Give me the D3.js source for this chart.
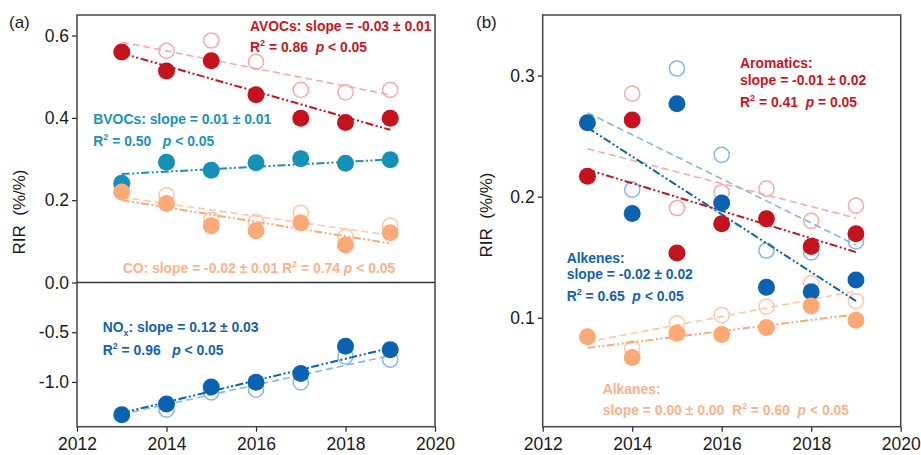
<!DOCTYPE html>
<html>
<head>
<meta charset="utf-8">
<script src="https://cdn.jsdelivr.net/npm/d3@7"></script>
<style>
  html, body { margin: 0; padding: 0; background: #fff; }
  svg text { font-family: "Liberation Sans", Arial, sans-serif; }
</style>
</head>
<body>
<svg id="chart" width="921" height="455"></svg>
<script>
// ---- data ----
const years = [2013, 2014, 2015, 2016, 2017, 2018, 2019];
const xTicks = [2012, 2014, 2016, 2018, 2020];

// panel (a)
const avocs = [0.560, 0.514, 0.539, 0.456, 0.399, 0.389, 0.399];
const avocsOpen = [null, 0.563, 0.588, 0.536, 0.468, 0.462, 0.468];
const avocsFit = [0.557, 0.371];
const avocsOpenFit = [0.584, 0.456];

const bvocs = [0.241, 0.292, 0.273, 0.291, 0.301, 0.290, 0.298];
const bvocsFit = [0.2635, 0.299];

const co = [0.220, 0.192, 0.138, 0.126, 0.145, 0.091, 0.121];
const coOpen = [null, 0.212, 0.152, 0.147, 0.169, 0.111, 0.138];
const coFit = [0.200, 0.095];
const coOpenFit = [0.207, 0.115];

const nox = [-1.329, -1.222, -1.051, -1.004, -0.916, -0.641, -0.675];
const noxOpen = [null, -1.279, -1.105, -1.078, -1.004, -0.742, -0.775];
const noxFit = [-1.312, -0.658];
const noxOpenFit = [-1.325, -0.735];

const yTicksPos = [0.0, 0.2, 0.4, 0.6];
const yTicksNeg = [-0.5, -1.0];

// panel (b)
const aromatics = [0.2168, 0.2632, 0.1534, 0.1776, 0.1818, 0.1588, 0.1693];
const aromaticsOpen = [null, 0.285, 0.1906, 0.2036, 0.2066, 0.180, 0.1925];
const aromaticsFit = [0.2224, 0.1542];
const aromaticsOpenFit = [0.2395, 0.1823];

const alkenes = [0.2611, 0.186, 0.2768, 0.1948, 0.1252, 0.1215, 0.1312];
const alkenesOpen = [null, 0.2058, 0.3058, 0.2345, 0.1555, 0.1539, 0.163];
const alkenesFit = [0.257, 0.1138];
const alkenesOpenFit = [0.2693, 0.160];

const alkanes = [0.0843, 0.0672, 0.0871, 0.0862, 0.092, 0.1097, 0.098];
const alkanesOpen = [null, 0.0746, 0.0954, 0.1022, 0.1091, 0.1285, 0.1138];
const alkanesFit = [0.0751, 0.1028];
const alkanesOpenFit = [0.080, 0.122];

const yTicksB = [0.1, 0.2, 0.3];

// ---- colours ----
const C = {
  red: '#c4121f', redLight: '#f7a9a9',
  teal: '#1591b8',
  orange: '#fca877', orangeLight: '#fdc8a8',
  blue: '#0b62b0', blueLight: '#84b6e8',
  redText: '#c8161e', tealText: '#1a92b9', orangeText: '#fbb189', blueText: '#1262ad'
};

const TOP = 15, BOTTOM = 426.7;
const TICK_FONT = '17.5px';
const svg = d3.select('#chart');

function styleAxis(g) {
  g.select('.domain').remove();
  g.selectAll('line').attr('stroke', '#222').attr('stroke-width', 1.2);
  g.selectAll('text').attr('fill', '#1a1a1a').style('font-size', TICK_FONT);
}

function drawFrame(x0, x1) {
  svg.append('rect')
    .attr('x', x0).attr('y', TOP)
    .attr('width', x1 - x0).attr('height', BOTTOM - TOP)
    .attr('fill', 'none').attr('stroke', '#444').attr('stroke-width', 1.5);
}

// one series: open circles, fit lines, filled circles go to separate layers
function drawSeries(layers, x, y, vals, open, fit, openFit, color, lightColor) {
  if (open) {
    layers.open.selectAll(null)
      .data(years.map((yr, i) => ({ yr, v: open[i] })).filter((d) => d.v != null))
      .enter().append('circle')
      .attr('cx', (d) => x(d.yr)).attr('cy', (d) => y(d.v)).attr('r', 7.6)
      .attr('fill', 'none').attr('stroke', lightColor).attr('stroke-width', 1.5);
  }
  if (openFit) {
    layers.lines.append('line')
      .attr('x1', x(years[0])).attr('x2', x(years[years.length - 1]))
      .attr('y1', y(openFit[0])).attr('y2', y(openFit[1]))
      .attr('stroke', lightColor).attr('stroke-width', 1.6)
      .attr('stroke-dasharray', '7,4');
  }
  layers.lines.append('line')
    .attr('x1', x(years[0])).attr('x2', x(years[years.length - 1]))
    .attr('y1', y(fit[0])).attr('y2', y(fit[1]))
    .attr('stroke', color).attr('stroke-width', 2)
    .attr('stroke-dasharray', '8,2.5,2,2.5,2,2.5');
  layers.filled.selectAll(null)
    .data(years.map((yr, i) => ({ yr, v: vals[i] })))
    .enter().append('circle')
    .attr('cx', (d) => x(d.yr)).attr('cy', (d) => y(d.v)).attr('r', 8.5)
    .attr('fill', color);
}

// rich text: segments {t, sup, sub, it}
function label(x, y, color, segs) {
  const t = svg.append('text')
    .attr('x', x).attr('y', y)
    .attr('xml:space', 'preserve')
    .attr('fill', color).style('font-size', '13.9px').style('font-weight', 'bold');
  let shift = 0;
  segs.forEach((s) => {
    const seg = typeof s === 'string' ? { t: s } : s;
    const target = seg.sup ? -6 : seg.sub ? 4 : 0;
    const ts = t.append('tspan').attr('dy', target - shift).text(seg.t);
    if (seg.sup || seg.sub) ts.style('font-size', '9px');
    if (seg.it) ts.style('font-style', 'italic');
    shift = target;
  });
}

function makeLayers() {
  return { open: svg.append('g'), lines: svg.append('g'), filled: svg.append('g') };
}

function yTitle(cx, cy) {
  svg.append('text')
    .attr('transform', `translate(${cx},${cy}) rotate(-90)`)
    .attr('text-anchor', 'middle').style('font-size', '17px').attr('fill', '#1a1a1a')
    .attr('xml:space', 'preserve')
    .text('RIR  (%/%)');
}

// ---------------- panel (a) ----------------
(function panelA() {
  const X0 = 77, X1 = 435, ZERO = 282.5;
  const x = d3.scaleLinear().domain([2012, 2020]).range([X0, X1]);
  const yPos = d3.scaleLinear().domain([0, 0.65]).range([ZERO, TOP]);
  const yNeg = d3.scaleLinear().domain([-1.45, 0]).range([BOTTOM, ZERO]);
  const y = (v) => (v >= 0 ? yPos(v) : yNeg(v));
  const fmt = (d) => d.toFixed(1);

  svg.append('g').attr('transform', `translate(0,${BOTTOM})`)
    .call(d3.axisBottom(x).tickValues(xTicks).tickFormat(d3.format('d')).tickSize(5).tickPadding(6))
    .call(styleAxis);
  svg.append('g').attr('transform', `translate(${X0},0)`)
    .call(d3.axisLeft(yPos).tickValues(yTicksPos).tickFormat(fmt).tickSize(5).tickPadding(3))
    .call(styleAxis);
  svg.append('g').attr('transform', `translate(${X0},0)`)
    .call(d3.axisLeft(yNeg).tickValues(yTicksNeg).tickFormat(fmt).tickSize(5).tickPadding(3))
    .call(styleAxis);

  svg.append('line')
    .attr('x1', X0).attr('x2', X1).attr('y1', ZERO).attr('y2', ZERO)
    .attr('stroke', '#333').attr('stroke-width', 1.3);

  const layers = makeLayers();
  drawSeries(layers, x, y, avocs, avocsOpen, avocsFit, avocsOpenFit, C.red, C.redLight);
  drawSeries(layers, x, y, bvocs, null, bvocsFit, null, C.teal, C.teal);
  drawSeries(layers, x, y, co, coOpen, coFit, coOpenFit, C.orange, C.orangeLight);
  drawSeries(layers, x, y, nox, noxOpen, noxFit, noxOpenFit, C.blue, C.blueLight);

  drawFrame(X0, X1);

  label(250, 30.7, C.redText, ['AVOCs: slope = -0.03 \u00b1 0.01']);
  label(250, 52.3, C.redText, ['R', { t: '2', sup: true }, ' = 0.86  ', { t: 'p', it: true }, ' < 0.05']);
  label(93.3, 124, C.tealText, ['BVOCs: slope = 0.01 \u00b1 0.01']);
  label(93.3, 146, C.tealText, ['R', { t: '2', sup: true }, ' = 0.50   ', { t: 'p', it: true }, ' < 0.05']);
  label(122.7, 273.3, C.orangeText, ['CO: slope = -0.02 \u00b1 0.01 R', { t: '2', sup: true }, ' = 0.74 ', { t: 'p', it: true }, ' < 0.05']);
  label(102.7, 331.7, C.blueText, ['NO', { t: 'x', sub: true }, ': slope = 0.12 \u00b1 0.03']);
  label(102.7, 355, C.blueText, ['R', { t: '2', sup: true }, ' = 0.96   ', { t: 'p', it: true }, ' < 0.05']);

  svg.append('text').attr('x', 9).attr('y', 28).style('font-size', '17px').attr('fill', '#1a1a1a').text('(a)');
  yTitle(25, 212);
})();

// ---------------- panel (b) ----------------
(function panelB() {
  const X0 = 542.7, X1 = 900.7;
  const x = d3.scaleLinear().domain([2012, 2020]).range([X0, X1]);
  const y = d3.scaleLinear().domain([0.01, 0.35]).range([BOTTOM, TOP]);

  svg.append('g').attr('transform', `translate(0,${BOTTOM})`)
    .call(d3.axisBottom(x).tickValues(xTicks).tickFormat(d3.format('d')).tickSize(5).tickPadding(6))
    .call(styleAxis);
  svg.append('g').attr('transform', `translate(${X0},0)`)
    .call(d3.axisLeft(y).tickValues(yTicksB).tickFormat((d) => d.toFixed(1)).tickSize(5).tickPadding(3))
    .call(styleAxis);

  const layers = makeLayers();
  drawSeries(layers, x, y, aromatics, aromaticsOpen, aromaticsFit, aromaticsOpenFit, C.red, C.redLight);
  drawSeries(layers, x, y, alkenes, alkenesOpen, alkenesFit, alkenesOpenFit, C.blue, C.blueLight);
  drawSeries(layers, x, y, alkanes, alkanesOpen, alkanesFit, alkanesOpenFit, C.orange, C.orangeLight);

  drawFrame(X0, X1);

  label(740, 68.3, C.redText, ['Aromatics:']);
  label(740, 85, C.redText, ['slope = -0.01 \u00b1 0.02']);
  label(740, 106.7, C.redText, ['R', { t: '2', sup: true }, ' = 0.41  ', { t: 'p', it: true }, ' = 0.05']);
  label(566.7, 262.7, C.blueText, ['Alkenes:']);
  label(566.7, 278.8, C.blueText, ['slope = -0.02 \u00b1 0.02']);
  label(566.7, 300.7, C.blueText, ['R', { t: '2', sup: true }, ' = 0.65  ', { t: 'p', it: true }, ' < 0.05']);
  label(602.7, 394, C.orangeText, ['Alkanes:']);
  label(602.7, 415, C.orangeText, ['slope = 0.00 \u00b1 0.00  R', { t: '2', sup: true }, ' = 0.60  ', { t: 'p', it: true }, ' < 0.05']);

  svg.append('text').attr('x', 476).attr('y', 28).style('font-size', '17px').attr('fill', '#1a1a1a').text('(b)');
  yTitle(492, 215);
})();
</script>
</body>
</html>
